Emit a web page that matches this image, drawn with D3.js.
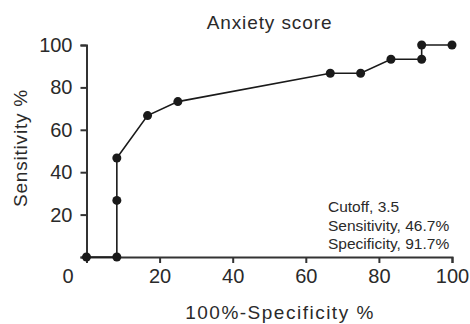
<!DOCTYPE html>
<html>
<head>
<meta charset="utf-8">
<script src="https://cdn.jsdelivr.net/npm/d3@7"></script>
<style>
  body { margin: 0; background: #fff; }
  text { font-family: "Liberation Sans", Arial, sans-serif; fill: #2a2a2a; }
</style>
</head>
<body>
<svg id="chart" width="470" height="324"></svg>
<script>
// ROC points: 100-specificity vs sensitivity
var fpr = [0, 8.3, 8.3, 8.3, 16.7, 25, 66.7, 75, 83.3, 91.7, 91.7, 100];
var tpr = [0, 0, 26.7, 46.7, 66.7, 73.3, 86.7, 86.7, 93.3, 93.3, 100, 100];
var xTicks = [0, 20, 40, 60, 80, 100];
var yTicks = [0, 20, 40, 60, 80, 100];
var notes = ["Cutoff, 3.5", "Sensitivity, 46.7%", "Specificity, 91.7%"];

var svg = d3.select("#chart");

var x = d3.scaleLinear().domain([0, 100]).range([86.5, 452]);
var y = d3.scaleLinear().domain([0, 100]).range([257, 45]);

var points = fpr.map(function(d, i) { return {x: d, y: tpr[i]}; });

var xAxis = d3.axisBottom(x).tickValues(xTicks).tickSize(6).tickPadding(6);
var yAxis = d3.axisLeft(y).tickValues(yTicks).tickSize(6).tickPadding(8)
    .tickFormat(function(d) { return d === 0 ? "" : d; });

var gx = svg.append("g")
    .attr("transform", "translate(0," + y(0) + ")")
    .call(xAxis);
var gy = svg.append("g")
    .attr("transform", "translate(" + x(0) + ",0)")
    .call(yAxis);

[gx, gy].forEach(function(g) {
  g.select(".domain").attr("stroke", "#333").attr("stroke-width", 2);
  g.selectAll(".tick line").attr("stroke", "#333").attr("stroke-width", 2);
  g.selectAll(".tick text")
      .style("font-size", "20px")
      .style("font-family", "Liberation Sans, Arial, sans-serif")
      .attr("fill", "#2a2a2a");
});

// origin label sits left of the y axis
gx.selectAll(".tick text").filter(function(d) { return d === 0; })
    .attr("dx", -19);

var line = d3.line()
    .x(function(d) { return x(d.x); })
    .y(function(d) { return y(d.y); });

svg.append("path")
    .datum(points)
    .attr("d", line)
    .attr("fill", "none")
    .attr("stroke", "#1a1a1a")
    .attr("stroke-width", 1.6);

svg.selectAll("circle")
    .data(points)
  .enter().append("circle")
    .attr("cx", function(d) { return x(d.x); })
    .attr("cy", function(d) { return y(d.y); })
    .attr("r", 4.5)
    .attr("fill", "#1a1a1a");

svg.append("text")
    .attr("x", 269.5)
    .attr("y", 29)
    .attr("text-anchor", "middle")
    .style("font-size", "19px")
    .style("letter-spacing", "0.9px")
    .text("Anxiety score");

svg.append("text")
    .attr("transform", "translate(27,148) rotate(-90)")
    .attr("text-anchor", "middle")
    .style("font-size", "19px")
    .style("letter-spacing", "0.8px")
    .text("Sensitivity %");

svg.append("text")
    .attr("x", 280)
    .attr("y", 319)
    .attr("text-anchor", "middle")
    .style("font-size", "19px")
    .style("letter-spacing", "1.5px")
    .text("100%-Specificity %");

svg.append("g").selectAll("text")
    .data(notes)
  .enter().append("text")
    .attr("x", 328)
    .attr("y", function(d, i) { return 212 + i * 18.5; })
    .style("font-size", "15.5px")
    .text(function(d) { return d; });
</script>
</body>
</html>
